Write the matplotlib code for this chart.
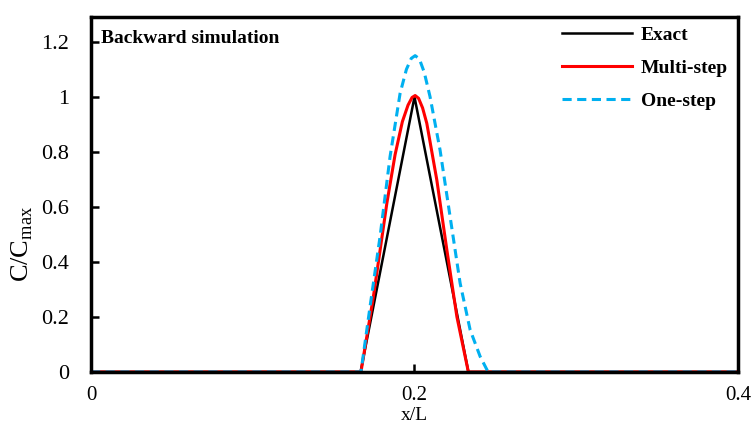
import numpy as np
import matplotlib.pyplot as plt
from matplotlib.ticker import FuncFormatter

# exact triangular pulse
exact_x = [0.0, 1 / 6, 0.2, 7 / 30, 0.4]
exact_y = [0.0, 0.0, 1.0, 0.0, 0.0]

# multi-step backward solution
multi_x = [0.0, 0.1669, 0.1746, 0.1829, 0.1880, 0.1925, 0.1960, 0.1985, 0.2004,
           0.2025, 0.2050, 0.2076, 0.2138, 0.2200, 0.2262, 0.2333, 0.4]
multi_y = [0.0, 0.0, 0.274, 0.613, 0.790, 0.910, 0.970, 0.998, 1.005,
           0.995, 0.960, 0.904, 0.698, 0.444, 0.201, 0.0, 0.0]

# one-step backward solution
one_x = [0.0, 0.1669, 0.1725, 0.1787, 0.1849, 0.1911, 0.1950, 0.1980, 0.2004,
         0.2030, 0.2060, 0.2096, 0.2158, 0.2220, 0.2282, 0.2344, 0.2406,
         0.2455, 0.4]
one_y = [0.0, 0.0, 0.237, 0.492, 0.783, 1.013, 1.100, 1.140, 1.150,
         1.138, 1.090, 1.001, 0.807, 0.565, 0.323, 0.153, 0.056,
         0.0, 0.0]

plt.rcParams['font.family'] = ['Liberation Serif', 'DejaVu Serif']
plt.rcParams['mathtext.fontset'] = 'custom'
plt.rcParams['mathtext.rm'] = 'Liberation Serif'

fig = plt.figure(figsize=(7.55, 4.26), dpi=100)
ax = fig.add_axes([0.1205, 0.1268, 0.857, 0.833])

ax.plot(exact_x, exact_y, color='black', lw=1.8, label='Exact')
ax.plot(multi_x, multi_y, color='#ff0000', lw=2.2, label='Multi-step')
ax.plot(one_x, one_y, color='#00b0f0', lw=2.2, ls=(0, (3, 1.8)), label='One-step')

ax.set_xlim(0, 0.4)
ax.set_ylim(0, 1.29)
ax.set_xticks([0, 0.2, 0.4])
ax.set_yticks(np.arange(0, 1.21, 0.2))
fmt = FuncFormatter(lambda v, p: '%g' % round(v, 2))
ax.xaxis.set_major_formatter(fmt)
ax.yaxis.set_major_formatter(fmt)
ax.tick_params(direction='in', length=6, width=1.8, labelsize=16)
ax.tick_params(axis='x', pad=10, labelsize=15)
ax.tick_params(axis='y', pad=16)
for s in ax.spines.values():
    s.set_linewidth(2.5)

ax.set_xlabel('x/L', fontsize=14)
ax.xaxis.set_label_coords(0.5, -0.098)
ax.xaxis.label.set_va('top')
ax.set_ylabel('C/C$_{\\mathrm{max}}$', fontsize=19)
ax.yaxis.set_label_coords(-0.086, 0.36)

ax.text(0.016, 0.965, 'Backward simulation', transform=ax.transAxes,
        fontsize=14, fontweight='bold', va='top')

leg = ax.legend(loc='upper left', bbox_to_anchor=(0.728, 0.975), frameon=False,
                prop={'weight': 'bold', 'size': 14}, handlelength=3.6,
                labelspacing=0.8, handletextpad=0.45, borderpad=0,
                borderaxespad=0)

fig.savefig('out.png', dpi=100)
